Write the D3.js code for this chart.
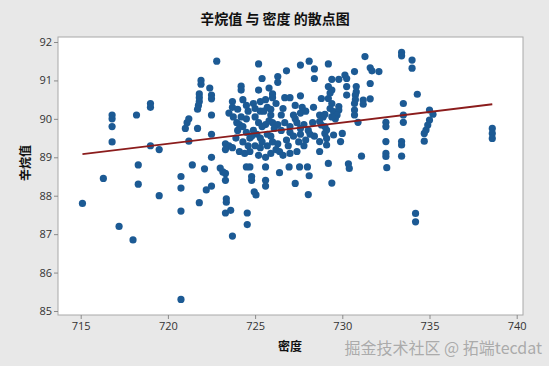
<!DOCTYPE html>
<html><head><meta charset="utf-8">
<script src="https://cdn.jsdelivr.net/npm/d3@7"></script>
<style>
html,body{margin:0;padding:0;background:#e8e8e8;}
svg{display:block;font-family:"Noto Sans","Noto Sans CJK SC",sans-serif;}
</style></head>
<body><svg id="chart" width="549" height="366"></svg>
<script>
const chartTitle = "辛烷值 与 密度 的散点图";
const xLabel = "密度";
const yLabel = "辛烷值";
const watermark = "掘金技术社区 @ 拓端tecdat";
const xTicks = [715, 720, 725, 730, 735, 740];
const yTicks = [85, 86, 87, 88, 89, 90, 91, 92];
// fitted regression line endpoints [density, octane]
const fitDensity = [715.1, 738.6];
const fitOctane = [89.08, 90.38];
// samples: [density, octane]
const samples = [
 [715.1,87.8],[716.3,88.45],[716.8,90.1],[716.8,90.0],[716.8,89.8],[716.8,89.4],[717.2,87.2],[718.0,86.85],
 [718.2,90.1],[718.3,88.8],[718.3,88.3],[719.0,90.4],[719.0,90.3],[719.0,89.3],[719.5,89.2],[719.5,88.0],
 [720.75,88.5],[720.75,88.2],[720.75,87.6],[720.75,85.3],
 [721.1,89.9],[721.2,90.0],[721.0,89.75],[721.2,89.42],[721.7,89.75],[721.4,88.8],[721.8,87.82],
 [721.9,91.0],[721.9,90.9],[721.8,90.65],[721.8,90.55],[721.8,90.45],[721.75,90.35],[721.7,90.25],
 [722.1,88.7],[722.2,88.15],[722.5,88.25],[722.4,90.8],[722.5,90.62],[722.5,90.52],[722.5,90.1],
 [722.5,89.6],[722.5,89.0],[722.8,91.5],[723.0,88.72],
 [723.15,88.62],[723.3,88.58],[723.3,88.4],[723.35,87.92],[723.35,87.83],[723.3,87.55],[723.6,87.62],
 [723.7,86.95],[724.55,87.55],[724.55,87.25],[723.3,89.35],[723.5,89.3],[723.3,89.2],[723.7,89.25],
 [723.5,90.15],[723.75,90.05],[723.7,90.45],[723.7,90.3],[723.95,89.9],[724.1,89.85],[724.3,89.8],
 [724.0,89.7],[724.5,89.65],[724.2,90.05],[724.5,90.0],[724.3,90.5],[724.5,90.35],[724.2,90.85],
 [724.2,90.75],[724.1,89.15],[724.4,89.1],[724.7,89.15],[724.3,89.4],[724.7,89.5],[724.5,88.75],
 [724.7,88.75],[724.8,88.5],[724.8,88.4],[724.95,88.1],[725.05,88.02],
 [725.2,91.43],[725.4,91.05],[725.2,90.75],[725.3,90.45],[725.6,90.5],[726.0,90.55],[725.0,90.27],
 [725.3,90.2],[725.7,90.3],[725.9,90.25],[725.5,90.2],[725.9,90.1],[725.2,89.9],[725.4,89.8],
 [725.6,89.85],[724.9,89.7],[725.1,89.6],[724.8,89.55],[725.3,89.5],[725.7,89.6],[725.9,89.55],
 [726.0,89.4],[726.3,89.35],[725.0,89.3],[725.3,89.25],[725.7,89.3],[725.2,89.05],[725.6,89.0],
 [725.9,89.1],[725.6,88.75],[725.6,88.4],[725.6,88.25],[726.0,90.65],[726.0,89.9],[726.3,89.85],
 [726.1,89.75],
 [724.6,90.2],[725.0,90.05],[725.8,89.95],[726.5,89.7],[726.8,89.45],[726.2,90.4],[726.5,90.1],
 [727.3,90.0],[724.0,90.25],[723.9,89.5],[724.6,89.3],[726.9,89.3],[727.5,89.4],[728.3,89.9],
 [728.4,89.55],[728.35,90.3],[726.2,89.2],[725.4,89.4],[724.9,90.4],[725.8,90.8],
 [726.3,91.1],[726.8,91.25],[726.3,90.95],[726.7,90.55],[727.0,90.55],[727.6,90.6],[727.3,90.35],
 [727.7,90.3],[726.6,90.27],[727.2,90.1],[727.6,90.15],[727.9,90.2],[726.7,89.9],[727.0,89.8],
 [727.4,89.9],[727.8,89.85],[727.6,89.75],[727.0,89.65],[727.2,89.55],[727.6,89.6],[727.9,89.45],
 [727.8,89.3],[728.05,89.7],[728.15,89.6],[726.4,89.15],[726.6,89.05],[727.0,89.1],[727.4,89.15],
 [726.4,88.6],[726.95,88.75],[727.55,88.75],[728.0,88.75],[728.1,88.52],[727.3,88.32],[728.05,88.03],
 [727.6,91.4],[728.1,91.5],[728.4,91.3],[728.4,91.05],
 [729.2,91.43],[729.4,91.03],[729.8,91.03],[730.15,91.14],[730.25,91.05],[730.7,91.23],[729.2,90.84],
 [729.4,90.75],[729.3,90.67],[730.25,90.84],[730.25,90.62],[730.8,90.84],[730.8,90.7],[730.75,90.62],
 [730.75,90.5],[728.8,90.53],[729.2,90.53],[729.4,90.4],[729.3,90.27],[729.5,90.19],[729.8,90.32],
 [729.8,90.23],[729.7,90.1],[729.6,90.0],[729.4,90.05],[730.7,90.4],[730.7,90.23],[730.7,90.1],
 [728.7,89.93],[728.8,89.84],[729.0,89.8],[729.1,89.71],[729.0,89.62],[729.1,89.49],[729.1,89.32],
 [729.5,89.58],[728.7,89.41],[728.7,89.15],[730.0,89.62],[729.9,89.41],[730.9,89.91],[729.2,88.84],
 [730.35,88.83],[730.4,88.71],[729.4,88.33],[731.1,89.03],[728.7,90.1],[728.9,90.05],[729.0,90.12],
 [731.3,91.62],[731.6,91.33],[731.7,91.25],[732.1,91.23],[731.6,90.92],[731.2,90.49],[731.2,90.38],
 [731.6,90.52],[733.4,91.73],[733.4,91.64],[734.0,91.53],[734.0,91.32],[734.3,90.64],[733.5,90.4],
 [733.5,90.1],[733.5,89.91],[732.5,89.91],[732.5,89.8],[732.5,89.41],[732.5,89.1],[732.5,89.02],
 [732.55,88.73],[733.4,89.41],[733.4,89.32],[733.4,89.03],[734.2,87.54],[734.2,87.32],
 [735.0,90.23],[735.2,90.12],[735.0,89.97],[734.9,89.84],[734.8,89.71],[734.7,89.62],[734.7,89.42],
 [738.6,89.75],[738.6,89.62],[738.6,89.49]
];

const svg = d3.select("#chart");
const frame = {left: 58, right: 523, top: 37, bottom: 315};
const x = d3.scaleLinear().domain([715, 740]).range([80.7, 516.7]);
const y = d3.scaleLinear().domain([85, 92]).range([311, 42]);

svg.append("rect").attr("x",0).attr("y",0).attr("width",549).attr("height",366).attr("fill","#e8e8e8");
svg.append("rect").attr("x",frame.left).attr("y",frame.top)
  .attr("width",frame.right-frame.left).attr("height",frame.bottom-frame.top)
  .attr("fill","#ffffff").attr("stroke","#a8a8a8").attr("stroke-width",1);

const yAxis = svg.append("g").attr("transform",`translate(${frame.left},0)`)
  .call(d3.axisLeft(y).tickValues(yTicks).tickSize(4).tickPadding(2).tickFormat(d3.format("d")));
const xAxis = svg.append("g").attr("transform",`translate(0,${frame.bottom})`)
  .call(d3.axisBottom(x).tickValues(xTicks).tickSize(4).tickPadding(3).tickFormat(d3.format("d")));
[xAxis, yAxis].forEach(g => {
  g.select(".domain").remove();
  g.selectAll(".tick line").attr("stroke","#8a8a8a");
  g.selectAll(".tick text").attr("fill","#333").style("font-size","11px").style("font-family","'Open Sans','Noto Sans',sans-serif");
});

svg.append("g").selectAll("circle").data(samples).join("circle")
  .attr("cx", d => x(d[0])).attr("cy", d => y(d[1])).attr("r", 3.6)
  .attr("fill", "#1c5a94");

svg.append("line")
  .attr("x1", x(fitDensity[0])).attr("y1", y(fitOctane[0]))
  .attr("x2", x(fitDensity[1])).attr("y2", y(fitOctane[1]))
  .attr("stroke", "#8b1c1c").attr("stroke-width", 1.8);

svg.append("text").attr("x", 275).attr("y", 24).attr("text-anchor","middle")
  .style("font-size","14px").style("font-weight","bold").attr("fill","#111")
  .style("font-family","'Noto Sans CJK SC',sans-serif").text(chartTitle);
svg.append("text").attr("x", 290).attr("y", 351).attr("text-anchor","middle")
  .style("font-size","12px").style("font-weight","bold").attr("fill","#111")
  .style("font-family","'Noto Sans CJK SC',sans-serif").text(xLabel);
svg.append("text").attr("transform","translate(30,163) rotate(-90)").attr("text-anchor","middle")
  .style("font-size","12px").style("font-weight","bold").attr("fill","#111")
  .style("font-family","'Noto Sans CJK SC',sans-serif").text(yLabel);
svg.append("text").attr("x", 542).attr("y", 354).attr("text-anchor","end")
  .style("font-size","16px").attr("fill","#9a9a9a").attr("fill-opacity",0.8)
  .style("font-family","'Noto Sans CJK SC',sans-serif").text(watermark);
</script></body></html>
